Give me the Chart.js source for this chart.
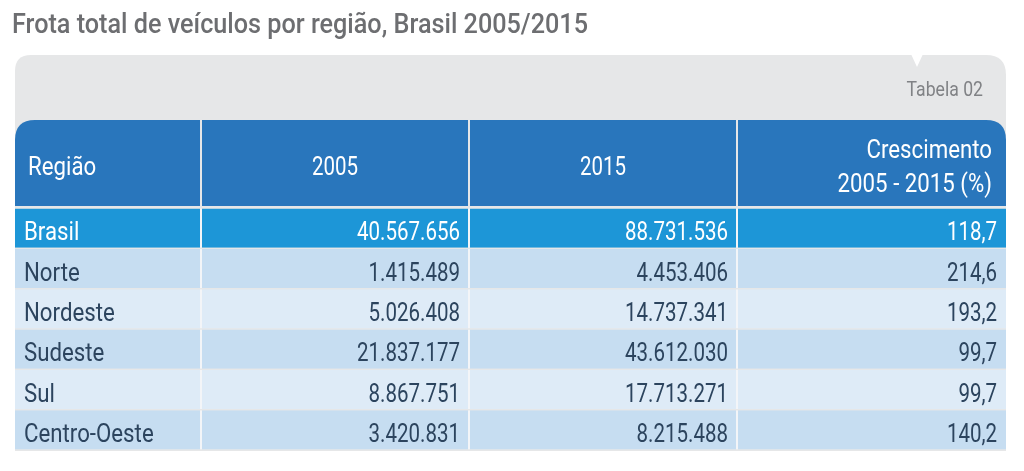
<!DOCTYPE html>
<html>
<head>
<meta charset="utf-8">
<script src="https://cdn.jsdelivr.net/npm/chart.js@4"></script>
<style>
  html, body { margin: 0; padding: 0; background: #fff; }
  #wrap { position: relative; width: 1024px; height: 471px; }
</style>
</head>
<body>
<div id="wrap"><canvas id="frotaChart" width="1024" height="471"></canvas></div>
<script>
// dados da tabela
const regioes = ["Brasil", "Norte", "Nordeste", "Sudeste", "Sul", "Centro-Oeste"];
const frota2005 = [40567656, 1415489, 5026408, 21837177, 8867751, 3420831];
const frota2015 = [88731536, 4453406, 14737341, 43612030, 17713271, 8215488];
const crescimento = [118.7, 214.6, 193.2, 99.7, 99.7, 140.2];
const colunas = ["Região", "2005", "2015", "Crescimento\n2005 - 2015 (%)"];
const titulo = "Frota total de veículos por região, Brasil 2005/2015";
const tabela = "Tabela 02";

// layout
const colWeights = [186, 268, 268, 269];
const colEdges = [0];
colWeights.forEach(w => colEdges.push(colEdges[colEdges.length - 1] + w));
const SX_NUM = 0.82; // fonte condensada (números)
const SX_TXT = 0.89; // fonte condensada (palavras)
const FONT = "Roboto";

const fmtInt = n => String(n).replace(/\B(?=(\d{3})+(?!\d))/g, ".");
const fmtDec = n => n.toFixed(1).replace(".", ",");

const cellText = [
  i => regioes[i],
  i => fmtInt(frota2005[i]),
  i => fmtInt(frota2015[i]),
  i => fmtDec(crescimento[i]),
];

function rowColor(i) {
  if (i === 0) return "#1d96d7";
  return i % 2 === 1 ? "#c6ddf1" : "#deebf7";
}

function drawText(ctx, text, x, y, align, font, color, sx) {
  ctx.save();
  ctx.font = font;
  ctx.fillStyle = color;
  ctx.textBaseline = "alphabetic";
  ctx.textAlign = "left";
  const w = ctx.measureText(text).width * sx;
  const left = align === "left" ? x : align === "right" ? x - w : x - w / 2;
  ctx.translate(left, y);
  ctx.scale(sx, 1);
  ctx.fillText(text, 0, 0);
  ctx.restore();
}

function roundTopRect(ctx, x, y, w, h, rl, rr) {
  ctx.beginPath();
  ctx.moveTo(x, y + h);
  ctx.lineTo(x, y + rl);
  ctx.quadraticCurveTo(x, y, x + rl, y);
  ctx.lineTo(x + w - rr, y);
  ctx.quadraticCurveTo(x + w, y, x + w, y + rr);
  ctx.lineTo(x + w, y + h);
  ctx.closePath();
}

const tablePlugin = {
  id: "tablePlugin",
  beforeDraw(chart) {
    const { ctx, chartArea, scales } = chart;
    const x = scales.x;
    ctx.save();
    ctx.fillStyle = "#fff";
    ctx.fillRect(0, 0, chart.width, chart.height);

    drawText(ctx, titulo, 12, 33, "left", `500 28px ${FONT}`, "#6d6e71", 0.9);

    // painel cinza
    const left = chartArea.left, right = chartArea.right;
    ctx.fillStyle = "#e6e7e8";
    roundTopRect(ctx, left, 55, right - left, chartArea.bottom + 1 - 55, 16, 20);
    ctx.fill();
    ctx.fillStyle = "#fff";
    ctx.beginPath();
    ctx.moveTo(911, 54);
    ctx.lineTo(923, 54);
    ctx.lineTo(917, 67);
    ctx.closePath();
    ctx.fill();

    drawText(ctx, tabela, 983, 96, "right", `400 21px ${FONT}`, "#808285", 0.84);

    // cabeçalho
    const top = 120, bottom = chartArea.top - 2;
    colunas.forEach((c, k) => {
      const x0 = x.getPixelForValue(colEdges[k]) + (k > 0 ? 1 : 0);
      const x1 = x.getPixelForValue(colEdges[k + 1]) - (k < colunas.length - 1 ? 1 : 0);
      ctx.fillStyle = "#2976bc";
      roundTopRect(ctx, x0, top, x1 - x0, bottom - top, k === 0 ? 20 : 0, k === colunas.length - 1 ? 20 : 0);
      ctx.fill();
      const font = `400 25px ${FONT}`;
      if (k === 0) {
        drawText(ctx, c, x0 + 13, 175, "left", font, "#fff", SX_TXT);
      } else if (k === colunas.length - 1) {
        const lines = c.split("\n");
        drawText(ctx, lines[0], x1 - 14, 158, "right", font, "#fff", SX_TXT);
        drawText(ctx, lines[1], x1 - 14, 192, "right", font, "#fff", SX_TXT);
      } else {
        drawText(ctx, c, (x0 + x1) / 2, 175, "center", font, "#fff", SX_NUM);
      }
    });
    ctx.restore();
  },
  afterDatasetsDraw(chart) {
    const { ctx } = chart;
    chart.data.datasets.forEach((ds, k) => {
      const meta = chart.getDatasetMeta(k);
      meta.data.forEach((bar, i) => {
        const p = bar.getProps(["x", "y", "base"], true);
        const color = i === 0 ? "#fff" : "#2c445e";
        const font = `400 25px ${FONT}`;
        const txt = cellText[k](i);
        const yb = p.y + 12;
        if (k === 0) {
          drawText(ctx, txt, p.base + 9, yb, "left", font, color, SX_TXT);
        } else {
          drawText(ctx, txt, p.x - 9, yb, "right", font, color, SX_NUM);
        }
      });
    });
  },
};

const datasets = colunas.map((c, k) => ({
  label: c,
  data: regioes.map(() => [colEdges[k], colEdges[k + 1]]),
  backgroundColor: ctx => rowColor(ctx.dataIndex),
  borderColor: "#f3f5f8",
  borderWidth: { left: k > 0 ? 1 : 0, right: k < colunas.length - 1 ? 1 : 0, top: 0, bottom: 0 },
  borderSkipped: false,
  grouped: false,
  categoryPercentage: 1,
  barPercentage: 0.97,
}));

new Chart(document.getElementById("frotaChart"), {
  type: "bar",
  data: { labels: regioes, datasets },
  plugins: [tablePlugin],
  options: {
    indexAxis: "y",
    responsive: false,
    animation: false,
    events: [],
    devicePixelRatio: 1,
    layout: { padding: { left: 15, right: 18, top: 208, bottom: 21 } },
    scales: {
      x: { type: "linear", display: false, min: colEdges[0], max: colEdges[colEdges.length - 1] },
      y: { type: "category", display: false, offset: true },
    },
    plugins: { legend: { display: false }, tooltip: { enabled: false }, title: { display: false } },
  },
});
</script>
</body>
</html>
